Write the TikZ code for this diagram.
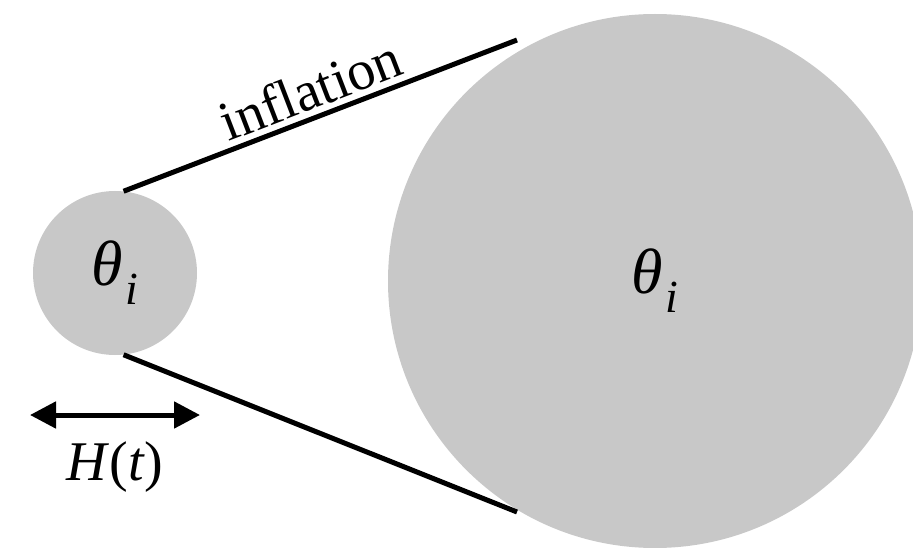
\documentclass[tikz,border=0pt]{standalone}
\usepackage{fontspec}
\setmainfont{Liberation Serif}
\usepackage{xcolor}
\usetikzlibrary{arrows.meta}
\definecolor{regionGray}{HTML}{C8C8C8}
\newcommand{\thetai}{\textit{θ}\kern0.03em\raisebox{-0.3em}{\textit{\fontsize{46}{48}\selectfont i}}}

\begin{document}
\begin{tikzpicture}[x=1pt, y=-1pt,
    region/.style={circle, fill=regionGray, inner sep=0pt, font=\fontsize{64}{66}\selectfont},
    conline/.style={line width=5pt},
    bigtext/.style={font=\fontsize{56}{60}\selectfont}]
    \useasboundingbox (0, 0) rectangle (913, 548);

    \node[region, minimum size=164pt] (small) at (115, 273) {\thetai};
    \node[region, minimum size=534pt] (big) at (655, 281) {\thetai};

    \coordinate (topend) at (517, 40);
    \coordinate (botend) at (517, 512);
    \draw[conline] (small.84) -- (topend)
        node[midway, sloped, above=2pt, bigtext] (infl) {inflation};
    \draw[conline] (small.-84) -- (botend);

    \coordinate (arrowL) at (30, 415);
    \coordinate (arrowR) at (200, 415);
    \draw[line width=5pt, {Triangle[length=26pt, width=26pt]}-{Triangle[length=26pt, width=26pt]}]
        (arrowL) -- (arrowR);
    \node[bigtext] (ht) at (115, 467) {\textit{H}(\textit{t})};
\end{tikzpicture}
\end{document}
